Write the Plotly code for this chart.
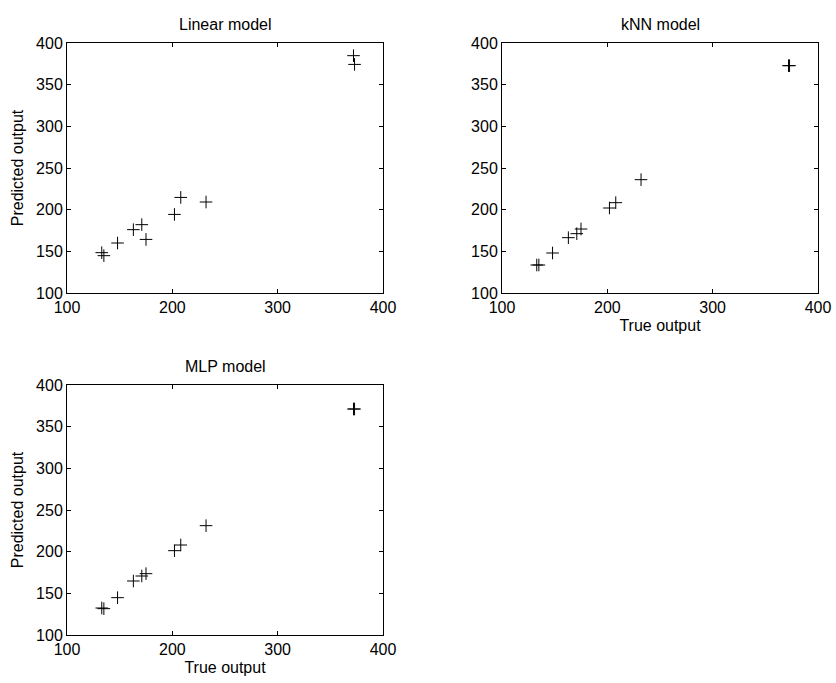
import plotly.graph_objects as go
from plotly.subplots import make_subplots

# true outputs (shared by all three models)
true_output = [133, 135, 148, 163, 171, 175, 202, 208, 232, 372, 373]

# predictions
linear_pred = [148.4, 144.8, 160, 176, 182, 164.3, 194.3, 214.7, 209.2, 384.8, 374.3]
knn_pred = [133.6, 133.6, 148, 166.4, 171.2, 176.8, 202, 208.4, 236, 372.8, 372.8]
mlp_pred = [132.4, 131.6, 144.8, 164.8, 170.8, 173.6, 201.2, 208, 231.2, 371.2, 371.2]

panels = [
    ("Linear model", linear_pred, 1, 1),
    ("kNN model", knn_pred, 1, 2),
    ("MLP model", mlp_pred, 2, 1),
]

ticks_x = [100, 200, 300, 400]
ticks_y = [100, 150, 200, 250, 300, 350, 400]

font = dict(family="Liberation Sans, Arial, sans-serif", size=16, color="black")

fig = make_subplots(rows=2, cols=2)

for name, pred, r, c in panels:
    fig.add_trace(
        go.Scatter(
            x=true_output, y=pred, mode="markers",
            marker=dict(symbol="cross-thin-open", size=9, color="black",
                        line=dict(color="black", width=1)),
            showlegend=False,
        ),
        row=r, col=c,
    )

domains_x = {1: [67 / 836, 383 / 836], 2: [502 / 836, 818 / 836]}
domains_y = {1: [1 - 293 / 683, 1 - 43 / 683], 2: [1 - 635 / 683, 1 - 385 / 683]}

axis_style = dict(
    showline=True, linecolor="black", linewidth=1, mirror="ticks",
    ticks="inside", ticklen=4, tickcolor="black", showgrid=False,
    zeroline=False, tickfont=font, automargin=False,
)

annotations = []
for i, (name, pred, r, c) in enumerate(panels):
    xa = "xaxis" if i == 0 else f"xaxis{i + 1}"
    ya = "yaxis" if i == 0 else f"yaxis{i + 1}"
    fig.layout[xa].update(domain=domains_x[c], range=[100, 400],
                          tickvals=ticks_x, **axis_style)
    fig.layout[ya].update(domain=domains_y[r], range=[100, 400],
                          tickvals=ticks_y, **axis_style)
    if name != "Linear model":
        fig.layout[xa].update(title=dict(text="True output", font=font, standoff=4))
    if name != "kNN model":
        fig.layout[ya].update(title=dict(text="Predicted output", font=font, standoff=8))
    annotations.append(dict(
        text=name, showarrow=False, font=font,
        xref="paper", yref="paper",
        x=sum(domains_x[c]) / 2, y=domains_y[r][1],
        xanchor="center", yanchor="bottom", yshift=8,
    ))

# drop the empty fourth panel
fig.layout.xaxis4.visible = False
fig.layout.yaxis4.visible = False

fig.update_layout(
    width=836, height=683,
    margin=dict(l=0, r=0, t=0, b=0),
    paper_bgcolor="white", plot_bgcolor="white",
    annotations=annotations,
    font=font,
)

# no default body margin, so the figure fills the window exactly
fig.write_html("out.html", config={"displayModeBar": False},
               post_script="document.body.style.margin='0';")
